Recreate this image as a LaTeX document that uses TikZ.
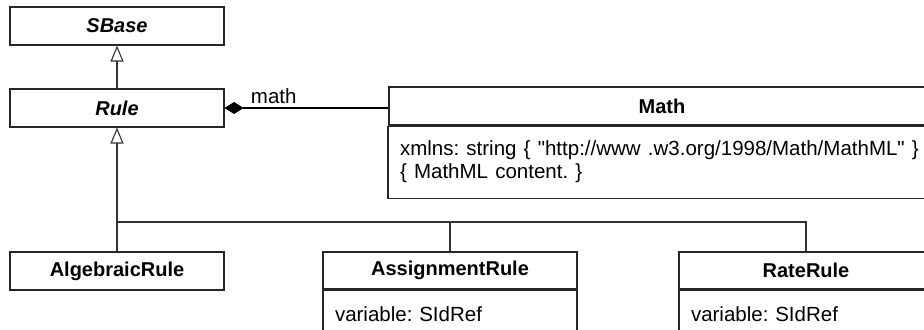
\documentclass[tikz,border=0pt]{standalone}
\usepackage{fontspec}
\setmainfont{Liberation Sans}
\usetikzlibrary{positioning,arrows.meta}
\frenchspacing

\tikzset{
  classbox/.style={draw=black!85, line width=0.55pt, inner sep=0pt, font=\bfseries},
  abstractbox/.style={classbox, font=\bfseries\itshape},
  attrbox/.style={draw=black!85, line width=0.55pt, inner xsep=6pt, inner ysep=0pt, align=left, anchor=north},
  inherit/.style={draw=black!80, line width=0.55pt, -{Triangle[open, length=8pt, width=6.5pt]}},
  compose/.style={draw=black, line width=0.55pt, {Diamond[length=9.5pt, width=6pt]}-}
}

\begin{document}
\begin{tikzpicture}[x=0.5pt, y=-0.5pt, font=\fontsize{10.25}{11.5}\selectfont]
  \useasboundingbox (0,0) rectangle (924,330);
  \clip (0,0) rectangle (924,330);

  % Abstract classes
  \node[abstractbox, minimum width=107pt, minimum height=19pt] (SBase) at (117,26) {SBase};
  \node[abstractbox, minimum width=107pt, minimum height=19pt] (Rule) at (117,108) {Rule};

  % Math
  \node[classbox, minimum width=273pt, minimum height=19pt] (mathhead) at (662,106) {Math};
  \node[attrbox, text width=262pt, minimum height=36pt, below=0pt of mathhead] (mathattr)
    {\spaceskip=3.6pt plus 1pt xmlns: string \{ \textquotedbl http://www .w3.org/1998/Math/MathML\textquotedbl{} \}\\\{ MathML content. \}};

  % Subclasses
  \node[classbox, minimum width=107pt, minimum height=19pt] (algebraic) at (117,271) {AlgebraicRule};
  \node[classbox, minimum width=127pt, minimum height=18.5pt] (assignhead) at (450,270.5) {AssignmentRule};
  \node[attrbox, text width=115pt, minimum height=24pt, below=0pt of assignhead] (assignattr) {variable: SIdRef};
  \node[classbox, minimum width=127pt, minimum height=18.5pt] (ratehead) at (806,270.5) {RateRule};
  \node[attrbox, text width=115pt, minimum height=24pt, below=0pt of ratehead] (rateattr) {variable: SIdRef};

  % Generalization
  \draw[inherit] (Rule) -- (SBase);
  \coordinate (fork) at (117,222);
  \draw[draw=black!80, line width=0.55pt] (assignhead.north) |- (fork);
  \draw[draw=black!80, line width=0.55pt] (ratehead.north) |- (fork);
  \draw[inherit] (algebraic) -- (Rule);

  % Composition
  \draw[compose] (Rule.east) -- (Rule.east -| mathhead.west) node[pos=0.3, above, inner sep=2pt] {math};
\end{tikzpicture}
\end{document}
